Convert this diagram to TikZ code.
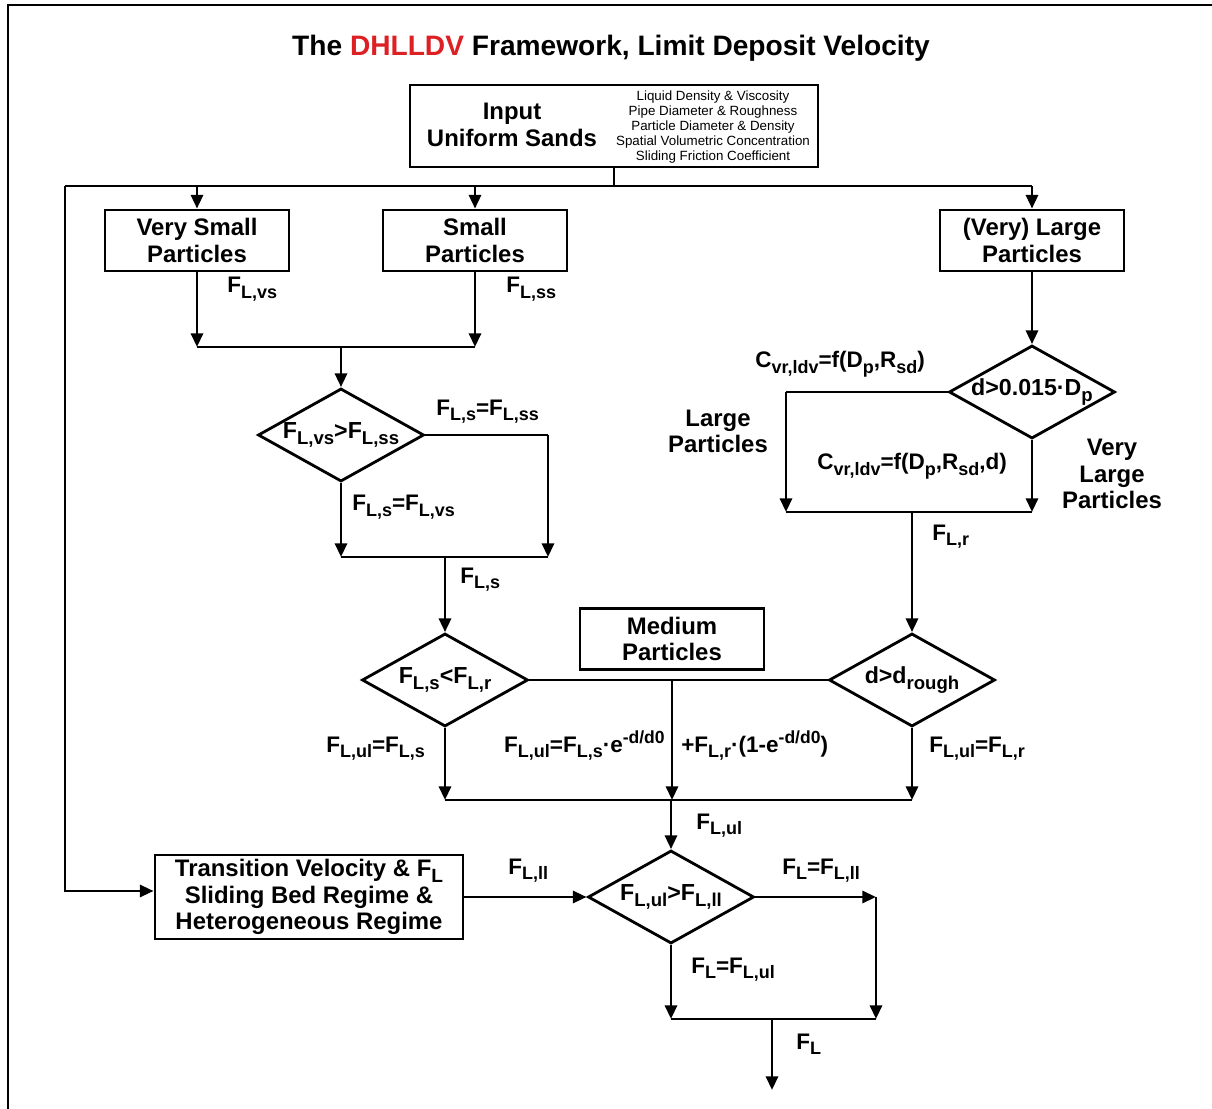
\documentclass[tikz,border=0pt]{standalone}
\usepackage{fontspec}
\setmainfont{Liberation Sans}
\usepackage{graphicx}
\usetikzlibrary{arrows.meta,shapes.geometric}
\definecolor{rojodh}{RGB}{220,32,36}
% subíndice y superíndice en texto
\newcommand{\bajo}[1]{\raisebox{-0.25em}{\scalebox{0.8}{#1}}}
\newcommand{\alto}[1]{\raisebox{0.36em}{\scalebox{0.78}{#1}}}

\begin{document}
\begin{tikzpicture}[x=0.025cm,y=-0.025cm,
    linea/.style={line width=2pt},
    flecha/.style={-{Triangle[length=0.34cm,width=0.3cm]}},
    caja/.style={draw,line width=2pt,minimum width=\cw,minimum height=\ch,
      inner sep=0pt,align=center,font=\fontsize{17}{18.6}\selectfont\bfseries},
    rombo/.style={draw,diamond,line width=2pt,minimum width=\rw,minimum height=\rh,
      inner sep=0pt,font=\fontsize{16.5}{19}\selectfont\bfseries},
    etiq/.style={anchor=base west,inner sep=0pt,font=\fontsize{16}{19}\selectfont\bfseries},
    texto/.style={inner sep=0pt,align=center,font=\fontsize{17}{18.6}\selectfont\bfseries}]
    % parámetros
    \def\cw{4.6cm}     % ancho caja
    \def\ch{1.525cm}   % alto caja
    \def\rw{4.15cm}    % ancho rombo
    \def\rh{2.325cm}   % alto rombo

    \useasboundingbox (0,0) rectangle (1212,1109);
    % marco
    \draw[line width=1.8pt] (8,1130) -- (8,5) -- (1230,5);

    %—————— Título y entrada ——————————————————————————————————————————————
    \node[font=\fontsize{20}{24}\selectfont\bfseries] (titulo) at (611,48)
      {The \textcolor{rojodh}{DHLLDV} Framework, Limit Deposit Velocity};
    \node[caja,minimum width=10.2cm,minimum height=2.05cm] (input) at (614,126) {};
    \node[texto,font=\fontsize{17}{19.3}\selectfont\bfseries] (inputA) at (512,125)
      {Input\\Uniform Sands};
    \node[inner sep=0pt,align=center,font=\fontsize{9.5}{10.7}\selectfont] (inputB) at (713,127)
      {Liquid Density \& Viscosity\\Pipe Diameter \& Roughness\\Particle Diameter \& Density\\
       Spatial Volumetric Concentration\\Sliding Friction Coefficient};

    %—————— Cajas de partículas ———————————————————————————————————————————
    \node[caja] (vs) at (197,240.5) {Very Small\\Particles};
    \node[caja] (sm) at (475,240.5) {Small\\Particles};
    \node[caja] (vl) at (1032,240.5) {(Very) Large\\Particles};
    \node[caja] (med) at (672,639) {Medium\\Particles};
    \node[caja,minimum width=7.7cm,minimum height=2.1cm] (trans) at (309,897)
      {Transition Velocity \& F\bajo{L}\\Sliding Bed Regime \&\\Heterogeneous Regime};

    %—————— Rombos —————————————————————————————————————————————————————————
    \node[rombo] (d1) at (341,435) {\makebox[0pt]{F\bajo{L,vs}>F\bajo{L,ss}}};
    \node[rombo] (d2) at (445,680) {\makebox[0pt]{F\bajo{L,s}<F\bajo{L,r}}};
    \node[rombo] (d3) at (912,680) {\makebox[0pt]{d>d\bajo{rough}}};
    \node[rombo] (d4) at (671,897) {\makebox[0pt]{F\bajo{L,ul}>F\bajo{L,ll}}};
    \node[rombo] (d5) at (1032,392) {\makebox[0pt]{d>0.015·D\bajo{p}}};

    %—————— Ramas superiores ——————————————————————————————————————————————
    \coordinate (izq) at (65,186);
    \draw[linea] (input.south) -- (input.south |- izq);
    \draw[linea] (izq) -- (vl.north |- izq);
    \draw[linea,flecha] (vs.north |- izq) -- (vs.north);
    \draw[linea,flecha] (sm.north |- izq) -- (sm.north);
    \draw[linea,flecha] (vl.north |- izq) -- (vl.north);
    \draw[linea,flecha] (izq) |- ([yshift=0.15cm]trans.west);

    % partículas pequeñas
    \coordinate (junta1) at (0,347);
    \draw[linea,flecha] (vs.south) -- (vs.south |- junta1);
    \draw[linea,flecha] (sm.south) -- (sm.south |- junta1);
    \draw[linea] (vs.south |- junta1) -- (sm.south |- junta1);
    \draw[linea,flecha] (d1.north |- junta1) -- (d1.north);
    \coordinate (junta2) at (0,557);
    \coordinate (derd1) at (548,435);
    \draw[linea] (d1.east) -- (derd1);
    \draw[linea,flecha] (derd1) -- (derd1 |- junta2);
    \draw[linea,flecha] (d1.south) -- (d1.south |- junta2);
    \draw[linea] (d1.south |- junta2) -- (derd1 |- junta2);
    \draw[linea,flecha] (d2.north |- junta2) -- (d2.north);

    % partículas grandes
    \draw[linea,flecha] (vl.south) -- (d5.north);
    \coordinate (izqd5) at (786,392);
    \coordinate (junta3) at (0,512);
    \draw[linea] (d5.west) -- (izqd5);
    \draw[linea,flecha] (izqd5) -- (izqd5 |- junta3);
    \draw[linea,flecha] (d5.south) -- (d5.south |- junta3);
    \draw[linea] (izqd5 |- junta3) -- (d5.south |- junta3);
    \draw[linea,flecha] (d3.north |- junta3) -- (d3.north);

    % partículas medianas
    \coordinate (junta4) at (0,800);
    \draw[linea] (d2.east) -- (d3.west);
    \draw[linea,flecha] (med.south |- d2.east) -- (med.south |- junta4);
    \draw[linea,flecha] (d2.south) -- (d2.south |- junta4);
    \draw[linea,flecha] (d3.south) -- (d3.south |- junta4);
    \draw[linea] (d2.south |- junta4) -- (d3.south |- junta4);
    \draw[linea,flecha] (d4.north |- junta4) -- (d4.north);

    %—————— Rama inferior —————————————————————————————————————————————————
    \coordinate (derd4) at (876,897);
    \coordinate (junta5) at (0,1019);
    \coordinate (salida) at (772,1090);
    \draw[linea,flecha] (trans.east) -- (d4.west);
    \draw[linea,flecha] (d4.east) -- (derd4);
    \draw[linea,flecha] (derd4) -- (derd4 |- junta5);
    \draw[linea,flecha] (d4.south) -- (d4.south |- junta5);
    \draw[linea] (d4.south |- junta5) -- (derd4 |- junta5);
    \draw[linea,flecha] (salida |- junta5) -- (salida);

    %—————— Etiquetas ——————————————————————————————————————————————————————
    \node[etiq] (lvs) at (227,293) {F\bajo{L,vs}};
    \node[etiq] (lss) at (506,293) {F\bajo{L,ss}};
    \node[etiq] (ls1) at (436,415) {F\bajo{L,s}=F\bajo{L,ss}};
    \node[etiq] (ls2) at (352,511) {F\bajo{L,s}=F\bajo{L,vs}};
    \node[etiq] (ls) at (460,583) {F\bajo{L,s}};
    \node[etiq] (cv1) at (755,368) {C\bajo{vr,ldv}=f(D\bajo{p},R\bajo{sd})};
    \node[etiq] (cv2) at (817,470) {C\bajo{vr,ldv}=f(D\bajo{p},R\bajo{sd},d)};
    \node[texto] (lp) at (718,431) {Large\\Particles};
    \node[texto] (vlp) at (1112,474) {Very\\Large\\Particles};
    \node[etiq] (lr) at (932,540) {F\bajo{L,r}};
    \node[etiq] (lul1) at (326,752) {F\bajo{L,ul}=F\bajo{L,s}};
    \node[etiq,anchor=base east] (lul2) at (665,752)
      {F\bajo{L,ul}=F\bajo{L,s}·e\alto{-d/d0}};
    \node[etiq] (lul3) at (681,752) {+F\bajo{L,r}·(1-e\alto{-d/d0})};
    \node[etiq] (lul4) at (929,752) {F\bajo{L,ul}=F\bajo{L,r}};
    \node[etiq] (lul) at (696,829) {F\bajo{L,ul}};
    \node[etiq] (lll) at (508,874) {F\bajo{L,ll}};
    \node[etiq] (lf1) at (782,874) {F\bajo{L}=F\bajo{L,ll}};
    \node[etiq] (lf2) at (691,973) {F\bajo{L}=F\bajo{L,ul}};
    \node[etiq] (lf) at (796,1049) {F\bajo{L}};
\end{tikzpicture}
\end{document}
